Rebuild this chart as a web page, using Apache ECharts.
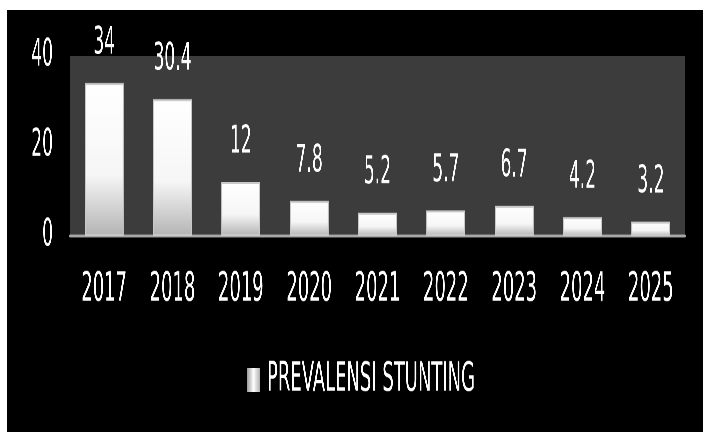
<!DOCTYPE html>
<html>
<head>
<meta charset="utf-8">
<script src="https://cdn.jsdelivr.net/npm/echarts@6/dist/echarts.min.js"></script>
<style>
html,body{margin:0;padding:0;background:#ffffff;width:703px;height:432px;overflow:hidden;}
#frame{position:absolute;left:7px;top:10px;width:696px;height:422px;background:#000;overflow:hidden;}
#chart{position:absolute;left:0;top:0;width:696px;height:211px;transform:scaleY(2);transform-origin:0 0;}
</style>
</head>
<body>
<div id="frame"><div id="chart"></div></div>
<script>
const categories = ['2017','2018','2019','2020','2021','2022','2023','2024','2025'];
const values = [34, 30.4, 12, 7.8, 5.2, 5.7, 6.7, 4.2, 3.2];
const seriesName = 'PREVALENSI STUNTING';
const yTicks = [0, 20, 40];

const FONT = "'DejaVu Sans Condensed', 'Liberation Sans Narrow', 'Noto Sans', sans-serif";
const barGradient = {
  type: 'linear', x: 0, y: 0, x2: 0, y2: 1,
  colorStops: [
    {offset: 0, color: '#ffffff'},
    {offset: 0.6, color: '#f6f6f6'},
    {offset: 1, color: '#b4b4b4'}
  ]
};
const iconGradient = {
  type: 'linear', x: 0, y: 0, x2: 1, y2: 0,
  colorStops: [
    {offset: 0, color: '#9a9a9a'},
    {offset: 0.5, color: '#ffffff'},
    {offset: 1, color: '#b0b0b0'}
  ]
};

const chart = echarts.init(document.getElementById('chart'), null, {devicePixelRatio: 3});
chart.setOption({
  backgroundColor: '#000',
  animation: false,
  grid: {
    left: 63, right: 18, top: 23, bottom: 98,
    show: true, backgroundColor: '#3c3c3c', borderWidth: 0
  },
  legend: {
    left: 235, top: 170,
    itemWidth: 13, itemHeight: 12, itemGap: 4,
    icon: 'rect',
    textStyle: {color: '#ffffff', fontFamily: FONT, fontSize: 20, padding: [0, 0, 0, 2]},
    data: [{name: seriesName, itemStyle: {color: iconGradient, borderWidth: 0}}]
  },
  xAxis: {
    type: 'category',
    data: categories,
    axisLine: {show: true, lineStyle: {color: '#a8a8a8', width: 1.5}},
    axisTick: {show: false},
    axisLabel: {color: '#ffffff', fontFamily: FONT, fontSize: 20, margin: 17, interval: 0}
  },
  yAxis: {
    type: 'value',
    min: 0, max: 40, interval: 20,
    axisLine: {show: false},
    axisTick: {show: false},
    splitLine: {show: false},
    axisLabel: {
      color: '#ffffff', fontFamily: FONT, fontSize: 19, margin: 17,
      formatter: function (v) { return yTicks.indexOf(v) >= 0 ? String(v) : ''; }
    }
  },
  series: [{
    name: seriesName,
    type: 'bar',
    data: values,
    barWidth: '57%',
    itemStyle: {color: barGradient, borderColor: '#c8c8c8', borderWidth: 1},
    label: {
      show: true, position: 'top', distance: 10,
      color: '#ffffff', fontFamily: FONT, fontSize: 19
    }
  }]
});
</script>
</body>
</html>
